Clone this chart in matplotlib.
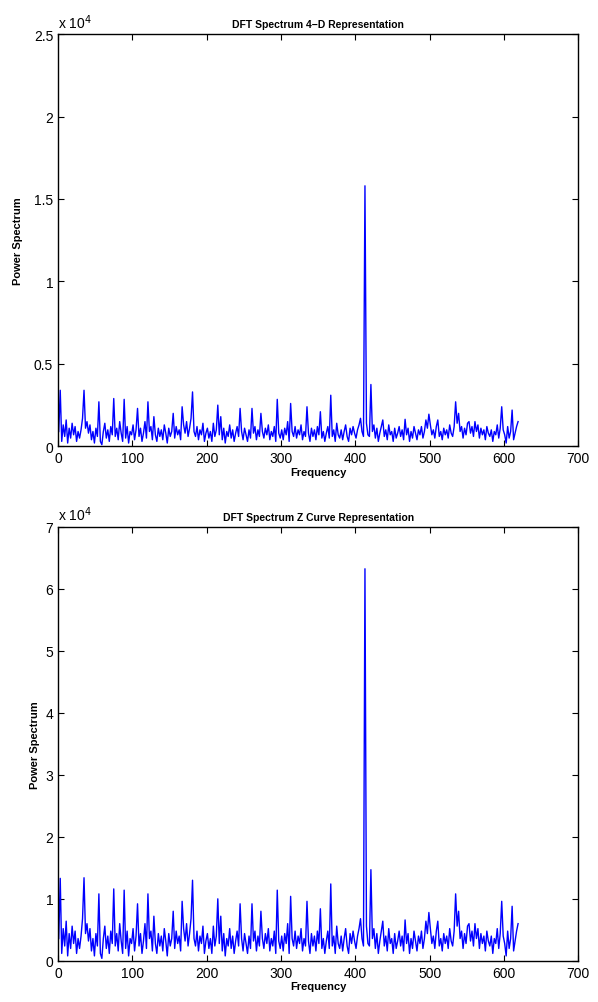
import numpy as np
import matplotlib.pyplot as plt
from matplotlib.ticker import FuncFormatter

plt.rcParams['font.family'] = ['Liberation Sans', 'DejaVu Sans']

# frequency samples (every 2nd bin)
freq = list(range(1, 620, 2))

# power spectrum, 4-D representation
power_4d = [
    900, 3400, 300, 1300, 600, 1600, 200, 1100, 500, 1400,
    700, 1200, 300, 900, 500, 1000, 1700, 3400, 1100, 1500,
    800, 1300, 400, 900, 200, 1100, 600, 2700, 300, 100,
    900, 1400, 500, 1000, 300, 1200, 700, 2900, 600, 1100,
    400, 1500, 800, 300, 2850, 500, 1200, 200, 900, 700,
    1300, 400, 1000, 2300, 600, 1100, 300, 800, 1500, 500,
    2700, 900, 1200, 400, 1800, 700, 300, 1100, 600, 1000,
    400, 1300, 800, 200, 1100, 600, 900, 2000, 500, 1200,
    700, 1000, 400, 2400, 1300, 800, 1500, 600, 1100, 1700,
    3300, 900, 600, 1200, 400, 1000, 700, 1400, 300, 800,
    1100, 500, 900, 300, 1400, 600, 1000, 2500, 700, 1800,
    400, 1100, 200, 900, 600, 1300, 500, 1000, 300, 800,
    1200, 600, 2300, 900, 400, 1100, 700, 300, 1000, 500,
    2300, 800, 1200, 400, 1000, 600, 2000, 900, 500, 1100,
    700, 1300, 400, 900, 600, 1200, 300, 2850, 800, 500,
    1000, 400, 1100, 700, 1500, 300, 2600, 900, 600, 1200,
    500, 1000, 700, 1300, 400, 900, 600, 2400, 800, 300,
    1100, 600, 1000, 400, 1200, 700, 2100, 500, 900, 300,
    800, 1200, 500, 3100, 600, 1000, 300, 1400, 700, 500,
    1000, 400, 900, 1300, 600, 300, 1100, 700, 1200, 800,
    500, 1000, 1300, 1700, 900, 600, 15800, 1400, 700, 600,
    3750, 900, 1300, 500, 1100, 300, 800, 1200, 1600, 600,
    1000, 400, 1300, 700, 900, 300, 1100, 500, 800, 1200,
    600, 1000, 400, 1640, 700, 1100, 300, 900, 500, 1200,
    800, 400, 1000, 700, 1200, 500, 900, 1600, 1100, 1950,
    1300, 700, 1000, 500, 1200, 1600, 600, 900, 400, 1100,
    700, 1000, 500, 1300, 800, 600, 1200, 2700, 1400, 2000,
    900, 1200, 500, 1100, 700, 1400, 1500, 800, 1200, 600,
    1500, 900, 1300, 500, 1100, 700, 1000, 400, 1200, 800,
    600, 1000, 300, 900, 700, 1300, 500, 1100, 2400, 1000,
    700, 200, 1200, 500, 900, 2200, 400, 800, 1200, 1500,
]

# power spectrum, Z curve representation
power_z = [
    3600, 13300, 1200, 5200, 2400, 6400, 800, 4400, 2000, 5600,
    2800, 4800, 1200, 3600, 2000, 4000, 6800, 13400, 4400, 6000,
    3200, 5200, 1600, 3600, 800, 4400, 2400, 10800, 1200, 400,
    3600, 5600, 2000, 4000, 1200, 4800, 2800, 11600, 2400, 4400,
    1600, 6000, 3200, 1200, 11400, 2000, 4800, 800, 3600, 2800,
    5200, 1600, 4000, 9200, 2400, 4400, 1200, 3200, 6000, 2000,
    10800, 3600, 4800, 1600, 7200, 2800, 1200, 4400, 2400, 4000,
    1600, 5200, 3200, 800, 4400, 2400, 3600, 8000, 2000, 4800,
    2800, 4000, 1600, 9600, 5200, 3200, 6000, 2400, 4400, 6800,
    13000, 3600, 2400, 4800, 1600, 4000, 2800, 5600, 1200, 3200,
    4400, 2000, 3600, 1200, 5600, 2400, 4000, 10000, 2800, 7200,
    1600, 4400, 800, 3600, 2400, 5200, 2000, 4000, 1200, 3200,
    4800, 2400, 9200, 3600, 1600, 4400, 2800, 1200, 4000, 2000,
    9200, 3200, 4800, 1600, 4000, 2400, 8000, 3600, 2000, 4400,
    2800, 5200, 1600, 3600, 2400, 4800, 1200, 11400, 3200, 2000,
    4000, 1600, 4400, 2800, 6000, 1200, 10400, 3600, 2400, 4800,
    2000, 4000, 2800, 5200, 1600, 3600, 2400, 9600, 3200, 1200,
    4400, 2400, 4000, 1600, 4800, 2800, 8400, 2000, 3600, 1200,
    3200, 4800, 2000, 12400, 2400, 4000, 1200, 5600, 2800, 2000,
    4000, 1600, 3600, 5200, 2400, 1200, 4400, 2800, 4800, 3200,
    2000, 4000, 5200, 6800, 3600, 2400, 63200, 5600, 2800, 2400,
    14700, 3600, 5200, 2000, 4400, 1200, 3200, 4800, 6400, 2400,
    4000, 1600, 5200, 2800, 3600, 1200, 4400, 2000, 3200, 4800,
    2400, 4000, 1600, 6600, 2800, 4400, 1200, 3600, 2000, 4800,
    3200, 1600, 4000, 2800, 4800, 2000, 3600, 6400, 4400, 7800,
    5200, 2800, 4000, 2000, 4800, 6400, 2400, 3600, 1600, 4400,
    2800, 4000, 2000, 5200, 3200, 2400, 4800, 10800, 5600, 8000,
    3600, 4800, 2000, 4400, 2800, 5600, 6000, 3200, 4800, 2400,
    6000, 3600, 5200, 2000, 4400, 2800, 4000, 1600, 4800, 3200,
    2400, 4000, 1200, 3600, 2800, 5200, 2000, 4400, 9600, 4000,
    2800, 800, 4800, 2000, 3600, 8800, 1600, 3200, 4800, 6000,
]

titles = ['DFT Spectrum 4\u2212D Representation', 'DFT Spectrum Z Curve Representation']
ymax = [25000, 70000]
ystep = [5000, 10000]
ylabpad = [8, 4]

fig = plt.figure(figsize=(5.98, 10.03), dpi=100)
ax1 = fig.add_axes([0.097, 0.554, 0.870, 0.411])
ax2 = fig.add_axes([0.097, 0.041, 0.870, 0.433])

fmt = FuncFormatter(lambda v, p: '%g' % (v / 1e4))

for ax, y, t, ym, ys, lp in zip([ax1, ax2], [power_4d, power_z], titles, ymax, ystep, ylabpad):
    ax.plot(freq, y, color='#0000ff', linewidth=1.0)
    ax.set_xlim(0, 700)
    ax.set_ylim(0, ym)
    ax.set_xticks(np.arange(0, 701, 100))
    ax.set_yticks(np.arange(0, ym + 1, ys))
    ax.yaxis.set_major_formatter(fmt)
    ax.tick_params(direction='in', top=True, right=True, labelsize=10, length=4)
    for s in ax.spines.values():
        s.set_linewidth(1.0)
    ax.set_title(t, fontsize=7.5, fontweight='bold', pad=5)
    ax.set_xlabel('Frequency', fontsize=8, fontweight='bold', labelpad=1)
    ax.set_ylabel('Power Spectrum', fontsize=8, fontweight='bold', labelpad=lp)
    ax.text(0.0, 1.008, 'x 10$^{4}$', transform=ax.transAxes, fontsize=10,
            ha='left', va='bottom')

fig.savefig('out.png', dpi=100)
